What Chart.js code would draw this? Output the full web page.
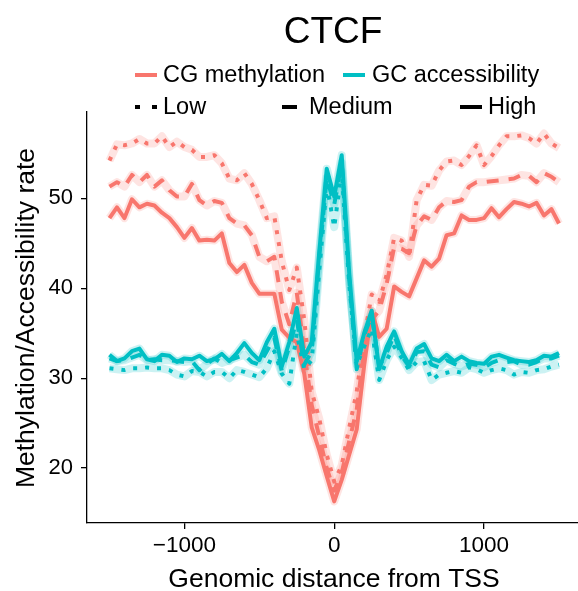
<!DOCTYPE html>
<html>
<head>
<meta charset="utf-8">
<script src="https://cdn.jsdelivr.net/npm/chart.js@4.4.0/dist/chart.umd.min.js"></script>
<style>
  html, body { margin: 0; padding: 0; background: #fff; overflow: hidden; }
  #wrap { width: 578px; height: 591px; }
</style>
</head>
<body>
<div id="wrap"><canvas id="ctcfChart" width="578" height="591"></canvas></div>
<script>
// distance from TSS (bp)
var distance = [-1500,-1450,-1400,-1350,-1300,-1250,-1200,-1150,-1100,-1050,-1000,-950,-900,-850,-800,-750,-700,-650,-600,-550,-500,-450,-400,-350,-300,-250,-200,-150,-100,-50,
  0,50,100,150,200,250,300,350,400,450,500,550,600,650,700,750,800,850,900,950,1000,1050,1100,1150,1200,1250,1300,1350,1400,1450,1500];

// CG methylation
var cgLow = [54.2,56.0,55.9,56.1,56.6,56.1,56.1,56.9,55.7,56.3,55.7,55.4,54.6,54.6,54.8,53.9,52.2,52.0,52.8,51.6,49.8,47.8,48.0,43.0,39.8,42.3,36.5,28.5,25.5,21.5,
  18.5,20.3,24.5,28.5,34.5,39.3,38.5,41.5,45.6,45.3,43.5,49.8,51.5,51.4,53.1,54.1,54.2,53.7,54.7,55.9,53.7,54.7,55.9,56.9,56.9,57.0,56.7,56.1,57.2,56.1,55.6];
var cgMedium = [51.3,51.8,51.3,52.6,51.8,52.6,51.3,52.0,50.9,50.2,50.2,51.6,49.8,49.2,49.7,49.5,47.8,47.2,47.0,45.9,43.5,43.0,43.5,38.5,36.0,39.5,33.0,27.0,23.5,20.0,
  17.5,19.5,23.0,26.5,33.0,36.5,37.5,40.5,44.6,44.4,43.9,47.0,48.0,47.6,49.0,49.7,49.6,49.8,51.3,51.8,51.8,51.9,52.0,52.1,52.2,52.6,52.5,51.8,52.8,52.4,51.8];
var cgHigh = [47.8,49.0,47.8,49.9,49.0,49.4,49.2,48.4,47.8,46.8,45.6,46.7,45.3,45.4,45.3,46.1,42.8,41.8,42.6,40.6,39.4,39.4,39.4,35.4,34.5,34.0,30.5,24.5,22.0,19.1,
  16.3,18.7,21.5,24.3,31.5,37.5,34.6,35.5,40.2,39.6,39.1,41.1,43.1,42.4,43.3,45.9,46.1,48.1,47.6,47.6,47.8,48.9,47.9,48.8,49.6,49.4,49.1,49.5,48.1,48.8,47.2];

// GC accessibility
var gcLow = [31.1,31.0,30.9,31.1,31.1,31.2,31.1,31.1,30.9,30.4,30.2,30.8,30.7,30.2,30.7,30.7,30.0,30.9,30.7,30.4,30.1,31.1,33.0,30.5,29.4,35.0,31.0,32.0,42.0,51.5,
  46.8,53.0,40.5,31.5,33.5,35.5,29.8,32.0,33.5,32.3,30.9,31.8,31.9,29.8,30.4,30.6,30.8,30.6,31.2,31.0,30.6,30.9,31.1,30.9,30.4,30.7,30.6,30.9,31.0,31.3,31.5];
var gcMedium = [32.2,31.9,32.0,32.3,32.6,32.0,32.1,32.0,32.0,31.9,31.8,31.9,30.9,31.6,32.2,31.7,32.0,32.3,32.6,31.8,31.5,33.0,34.5,30.8,33.5,36.5,31.5,33.0,43.5,52.3,
  49.3,54.0,41.0,31.0,34.8,37.0,31.3,32.8,34.8,32.5,31.3,32.9,33.0,31.5,31.2,32.0,31.6,31.3,31.6,31.5,31.2,31.7,32.0,31.8,31.9,31.5,31.5,31.8,32.2,32.2,32.5];
var gcHigh = [32.6,31.9,32.2,33.0,33.3,32.1,31.9,32.6,32.5,31.8,32.2,32.1,32.5,31.9,32.1,32.7,31.9,32.8,33.9,32.8,32.0,34.0,35.5,31.3,34.0,37.8,32.4,34.0,44.0,53.3,
  50.2,54.8,41.7,31.9,35.0,37.5,31.0,33.5,35.2,33.0,31.5,33.3,33.8,32.2,31.9,32.6,31.9,32.4,31.9,31.7,31.6,32.4,32.6,32.3,32.0,31.9,31.8,32.0,32.5,32.4,32.8];

var xTicks = [-1000, 0, 1000];
var yTicks = [20, 30, 40, 50];

var RED = "#F8766D";
var TEAL = "#00BFC4";
var RED_BAND = "rgba(248,118,109,0.2)";
var TEAL_BAND = "rgba(0,191,196,0.2)";
var FONT = "'Liberation Sans', Arial, sans-serif";

function pts(arr) {
  return arr.map(function (v, i) { return { x: distance[i], y: v }; });
}

function band(arr, color) {
  return { data: pts(arr), borderColor: color, borderWidth: 8, pointRadius: 0, fill: false,
    tension: 0, borderJoinStyle: "round", order: 10 };
}

function line(arr, color, dash, ord) {
  return { data: pts(arr), borderColor: color, borderWidth: 4, borderDash: dash, pointRadius: 0,
    fill: false, tension: 0, borderCapStyle: "butt", borderJoinStyle: "round", order: ord };
}

var DOT = [4, 8];
var DASH = [12, 10];

var decor = {
  id: "decor",
  afterDraw: function (chart) {
    var ctx = chart.ctx;
    ctx.save();
    ctx.fillStyle = "#000";
    // title
    ctx.font = "37px " + FONT;
    ctx.textAlign = "center";
    ctx.textBaseline = "alphabetic";
    ctx.fillText("CTCF", 333, 43);
    // x title
    ctx.font = "26.5px " + FONT;
    ctx.fillText("Genomic distance from TSS", 334, 587);
    // y title
    ctx.save();
    ctx.translate(27, 318);
    ctx.rotate(-Math.PI / 2);
    ctx.textBaseline = "middle";
    ctx.fillText("Methylation/Accessibility rate", 0, 0);
    ctx.restore();

    // legend
    ctx.font = "23.5px " + FONT;
    ctx.textAlign = "left";
    ctx.textBaseline = "middle";
    function key(x1, x2, y, color, dash) {
      ctx.beginPath();
      ctx.setLineDash(dash);
      ctx.lineCap = "butt";
      ctx.strokeStyle = color;
      ctx.lineWidth = 4;
      ctx.moveTo(x1, y);
      ctx.lineTo(x2, y);
      ctx.stroke();
      ctx.setLineDash([]);
    }
    key(135, 157, 75, RED, []);
    ctx.fillText("CG methylation", 163, 76);
    key(343, 365, 75, TEAL, []);
    ctx.fillText("GC accessibility", 372, 76);

    key(135, 157, 107, "#000", [5, 12]);
    ctx.fillText("Low", 163, 108);
    key(282, 297, 107, "#000", []);
    ctx.fillText("Medium", 309, 108);
    key(460, 482, 107, "#000", []);
    ctx.fillText("High", 488, 108);
    ctx.restore();
  }
};

var ctcfChart = new Chart("ctcfChart", {
  type: "line",
  data: {
    datasets: [
      band(cgLow, RED_BAND), band(cgMedium, RED_BAND), band(cgHigh, RED_BAND),
      band(gcLow, TEAL_BAND), band(gcMedium, TEAL_BAND), band(gcHigh, TEAL_BAND),
      line(cgLow, RED, DOT, 6), line(cgMedium, RED, DASH, 5), line(cgHigh, RED, [], 4),
      line(gcLow, TEAL, DOT, 3), line(gcMedium, TEAL, DASH, 2), line(gcHigh, TEAL, [], 1)
    ]
  },
  options: {
    responsive: false,
    animation: false,
    layout: { padding: { top: 112, left: 0, right: 0, bottom: 0 } },
    plugins: { legend: { display: false }, tooltip: { enabled: false }, title: { display: false } },
    scales: {
      x: {
        type: "linear",
        min: -1650,
        max: 1627,
        afterBuildTicks: function (scale) { scale.ticks = xTicks.map(function (v) { return { value: v }; }); },
        afterFit: function (scale) { scale.height = 68; },
        grid: { display: true, drawOnChartArea: false, drawTicks: true, tickLength: 6, color: "#000", lineWidth: 1.3 },
        border: { display: true, color: "#000", width: 1.3 },
        ticks: {
          color: "#000", padding: 3, maxRotation: 0,
          font: { family: FONT, size: 22.5 },
          callback: function (v) { return v < 0 ? "\u2212" + Math.abs(v) : String(v); }
        }
      },
      y: {
        min: 13.9,
        max: 59.6,
        afterBuildTicks: function (scale) { scale.ticks = yTicks.map(function (v) { return { value: v }; }); },
        afterFit: function (scale) { scale.width = 87; },
        grid: { display: true, drawOnChartArea: false, drawTicks: true, tickLength: 6, color: "#000", lineWidth: 1.3 },
        border: { display: true, color: "#000", width: 1.3 },
        ticks: { color: "#000", padding: 8, font: { family: FONT, size: 22 } }
      }
    }
  },
  plugins: [decor]
});
</script>
</body>
</html>
